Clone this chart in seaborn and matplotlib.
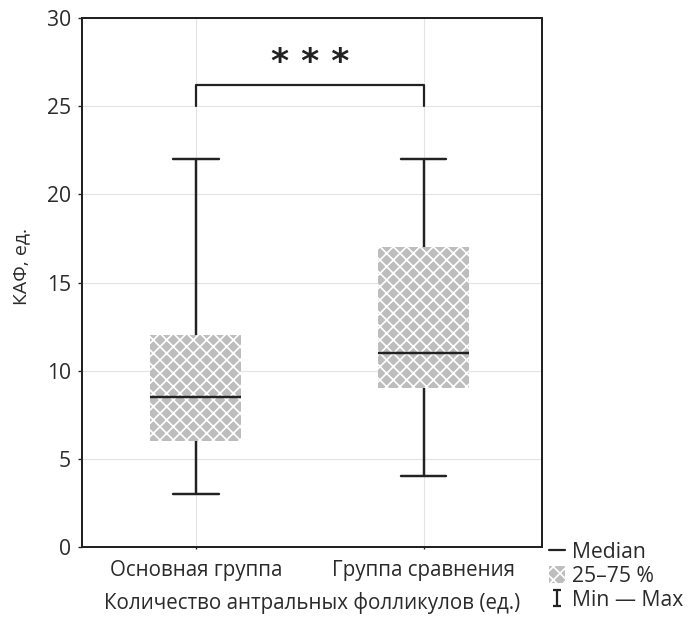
import matplotlib
matplotlib.use('Agg')
import matplotlib.pyplot as plt
import seaborn as sns
import pandas as pd
from matplotlib.patches import Patch
from matplotlib.lines import Line2D
from matplotlib.path import Path

# dados (min, q1, mediana, q3, max)
grupos = ['Основная группа', 'Группа сравнения']
osnovnaya = [3, 6, 8.5, 12, 22]
sravneniya = [4, 9, 11, 17, 22]
y_ticks = [0, 5, 10, 15, 20, 25, 30]

# colchete de significância
bracket_top = 26.2
bracket_low = 25
sig_text = '* * *'

df = pd.DataFrame({
    'grupo': [grupos[0]] * len(osnovnaya) + [grupos[1]] * len(sravneniya),
    'kaf': osnovnaya + sravneniya,
})

sns.set_style('whitegrid', {'axes.edgecolor': '#222222', 'grid.color': '#e3e3e3'})
plt.rcParams['font.family'] = ['Open Sans', 'DejaVu Sans']
plt.rcParams['hatch.color'] = 'white'
plt.rcParams['hatch.linewidth'] = 1.5

fig = plt.figure(figsize=(8.6, 7.7375), dpi=80)
ax = fig.add_axes([0.1192, 0.1163, 0.6686, 0.8546])

sns.boxplot(data=df, x='grupo', y='kaf', ax=ax, whis=(0, 100), width=0.4,
            color='#bdbdbd', linecolor='#222222', linewidth=2.2, fliersize=0)

# caixas com hachura branca, sem contorno
for p in ax.patches:
    p.set_facecolor('#bdbdbd')
    p.set_edgecolor('white')
    p.set_linewidth(0)
    p.set_hatch('xx')

ax.set_xlim(-0.5, 1.52)
ax.set_ylim(0, 30)
ax.set_yticks(y_ticks)
ax.tick_params(axis='y', left=True, length=4, width=1.2, color='#222222',
               labelsize=19, pad=6, labelcolor='#2a2a2a')
ax.tick_params(axis='x', bottom=True, length=2, width=1.2, color='#222222',
               labelsize=18.5, pad=10, labelcolor='#2a2a2a')
for s in ax.spines.values():
    s.set_linewidth(1.8)
ax.grid(True, color='#e3e3e3', linewidth=1)

ax.set_xlabel('Количество антральных фолликулов (ед.)', fontsize=18.5,
              color='#2a2a2a', labelpad=10)
ax.set_ylabel('КАФ, ед.', fontsize=17.5, color='#2a2a2a')
ax.yaxis.set_label_coords(-0.112, 0.53)

# colchete ***
ax.plot([0, 0, 1, 1], [bracket_low, bracket_top, bracket_top, bracket_low],
        color='#222222', lw=2)
ax.text(0.5, bracket_top + 0.35, sig_text, ha='center', va='bottom',
        fontsize=31, fontweight='bold', family='DejaVu Sans', color='#222222')

# legenda
ibeam = Path([(-0.5, -1), (0.5, -1), (0, -1), (0, 1), (-0.5, 1), (0.5, 1)],
             [Path.MOVETO, Path.LINETO, Path.MOVETO, Path.LINETO,
              Path.MOVETO, Path.LINETO])
handles = [
    Line2D([], [], color='#222222', lw=2),
    Patch(facecolor='#bdbdbd', edgecolor='white', linewidth=0, hatch='xx'),
    Line2D([], [], color='#222222', lw=0, marker=ibeam, markersize=15,
           markeredgewidth=2, markerfacecolor='none'),
]
fig.legend(handles, ['Median', '25–75 %', 'Min — Max'], loc='lower left',
           bbox_to_anchor=(0.785, 0.0), frameon=False, fontsize=19,
           handlelength=0.8, handleheight=0.9, handletextpad=0.3,
           labelspacing=0.12, borderaxespad=0, labelcolor='#2a2a2a')

fig.savefig('out.png', dpi=80)
